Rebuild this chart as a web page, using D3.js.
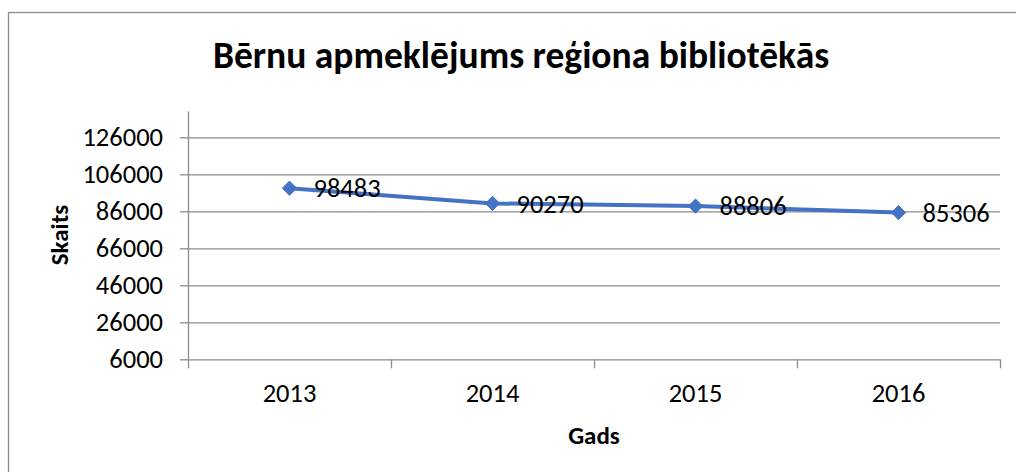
<!DOCTYPE html>
<html>
<head>
<meta charset="utf-8">
<script src="https://cdn.jsdelivr.net/npm/d3@7"></script>
<style>
  body { margin: 0; background: #fff; }
  text { font-family: Carlito, Calibri, Lato, sans-serif; fill: #000; }
</style>
</head>
<body>
<div id="chart"></div>
<script>
const years = ["2013", "2014", "2015", "2016"];
const visits = [98483, 90270, 88806, 85306];
const yTicks = [6000, 26000, 46000, 66000, 86000, 106000, 126000];

const title = "Bērnu apmeklējums reģiona bibliotēkās";
const yTitle = "Skaits";
const xTitle = "Gads";

const width = 1016, height = 472;
const margin = {top: 111.4, right: 16, bottom: 112.7, left: 188};
const w = width - margin.left - margin.right,
    h = height - margin.top - margin.bottom;
const labelSize = "26.5px";

const svg = d3.select("#chart").append("svg")
    .attr("width", width)
    .attr("height", height);

// chart border (cropped at right and bottom)
svg.append("rect")
    .attr("x", 8.5).attr("y", 12.5)
    .attr("width", 1200).attr("height", 600)
    .attr("fill", "none")
    .attr("stroke", "#8c8c8c")
    .attr("stroke-width", 1.3);

svg.append("text")
    .attr("x", 521).attr("y", 68)
    .attr("text-anchor", "middle")
    .style("font-size", "37.5px")
    .style("font-weight", "bold")
    .text(title);

const g = svg.append("g").attr("transform", "translate(" + margin.left + "," + margin.top + ")");

const x = d3.scaleBand().domain(years).range([0, w]);
const y = d3.scaleLinear().domain([6000, 140000]).range([h, 0]);

// gridlines
g.append("g").selectAll("line").data(yTicks.slice(1)).enter()
    .append("line")
    .attr("x1", 0).attr("x2", w)
    .attr("y1", d => Math.round(y(d)) + 0.5).attr("y2", d => Math.round(y(d)) + 0.5)
    .attr("stroke", "#8c8c8c").attr("stroke-width", 1.3);

// y axis
const yAxis = g.append("g")
    .call(d3.axisLeft(y).tickValues(yTicks).tickSize(8).tickPadding(17).tickFormat(d3.format("d")));
yAxis.selectAll("line").attr("stroke", "#8c8c8c").attr("stroke-width", 1.3);
yAxis.select(".domain").attr("stroke", "#8c8c8c").attr("stroke-width", 1.3).attr("d", "M0.5," + h + "V0");
yAxis.selectAll("text").style("font-size", labelSize).style("font-family", "Carlito, Calibri, Lato, sans-serif").attr("fill", "#000");

// x axis with ticks at band boundaries
const xAxisG = g.append("g").attr("transform", "translate(0," + h + ")");
xAxisG.append("line").attr("x1", 0).attr("x2", w).attr("y1", 0.5).attr("y2", 0.5)
    .attr("stroke", "#8c8c8c").attr("stroke-width", 1.3);
xAxisG.selectAll(".tick").data(years.concat(["end"])).enter()
    .append("line")
    .attr("x1", (d, i) => Math.round(i * x.step()) + 0.5)
    .attr("x2", (d, i) => Math.round(i * x.step()) + 0.5)
    .attr("y1", 0).attr("y2", 9)
    .attr("stroke", "#8c8c8c").attr("stroke-width", 1.3);
xAxisG.selectAll(".lbl").data(years).enter()
    .append("text")
    .attr("x", d => x(d) + x.bandwidth() / 2)
    .attr("y", 43)
    .attr("text-anchor", "middle")
    .style("font-size", labelSize)
    .text(d => d);

// line
const pts = years.map((d, i) => ({year: d, val: visits[i]}));
const line = d3.line().x(d => x(d.year) + x.bandwidth() / 2).y(d => y(d.val));
g.append("path").datum(pts)
    .attr("d", line)
    .attr("fill", "none")
    .attr("stroke", "#4472c4")
    .attr("stroke-width", 4)
    .attr("stroke-linejoin", "round");

g.selectAll(".marker").data(pts).enter()
    .append("path")
    .attr("transform", d => "translate(" + (x(d.year) + x.bandwidth() / 2) + "," + y(d.val) + ")")
    .attr("d", d3.symbol(d3.symbolDiamond2, 130))
    .attr("fill", "#4472c4")
    .attr("stroke", "#4472c4")
    .attr("stroke-width", 1);

g.selectAll(".dlabel").data(pts).enter()
    .append("text")
    .attr("x", d => x(d.year) + x.bandwidth() / 2 + 24)
    .attr("y", d => y(d.val))
    .attr("dy", "0.35em")
    .style("font-size", labelSize)
    .text(d => d.val);

// axis titles
svg.append("text")
    .attr("transform", "translate(68,235) rotate(-90)")
    .attr("text-anchor", "middle")
    .style("font-size", "25px")
    .style("font-weight", "bold")
    .text(yTitle);

svg.append("text")
    .attr("x", 594).attr("y", 444)
    .attr("text-anchor", "middle")
    .style("font-size", "25px")
    .style("font-weight", "bold")
    .text(xTitle);
</script>
</body>
</html>
